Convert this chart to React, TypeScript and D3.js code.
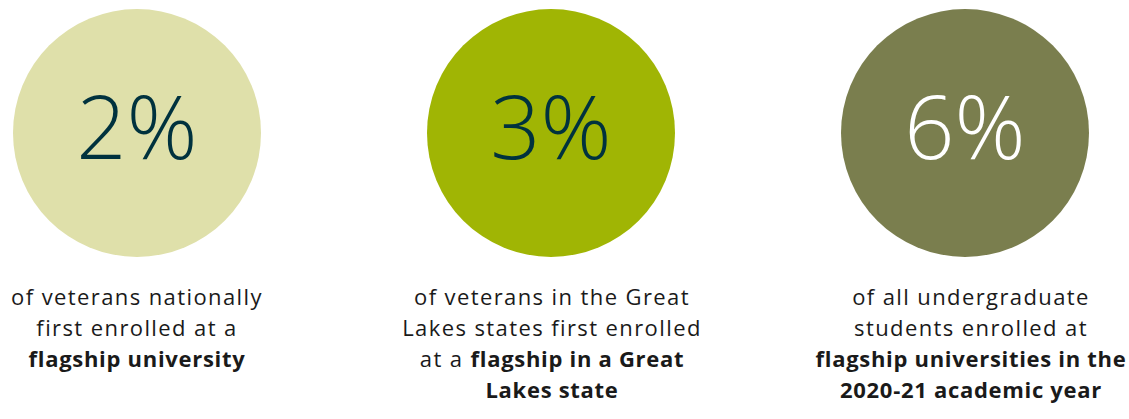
import React from "react";
import * as d3 from "d3";

const categories = ["national", "greatLakes", "undergrad"];
const values = [2, 3, 6];
const circleColors = ["#dfe0aa", "#a0b504", "#7a7e4e"];
const valueColors = ["#00323e", "#00323e", "#ffffff"];
type Seg = { t: string; b?: boolean };
const captions: Seg[][][] = [
  [
    [{ t: "of veterans nationally" }],
    [{ t: "first enrolled at a" }],
    [{ t: "flagship university", b: true }],
  ],
  [
    [{ t: "of veterans in the Great" }],
    [{ t: "Lakes states first enrolled" }],
    [{ t: "at a " }, { t: "flagship in a Great", b: true }],
    [{ t: "Lakes state", b: true }],
  ],
  [
    [{ t: "of all undergraduate" }],
    [{ t: "students enrolled at" }],
    [{ t: "flagship universities in the", b: true }],
    [{ t: "2020-21 academic year", b: true }],
  ],
];

const W = 1129;
const H = 419;

export default function App() {
  const x = d3.scalePoint<string>().domain(categories).range([137, 965]);
  const textOffset = [0, 1, 6];
  const cy = 133;
  const r = 124;
  const lineY = d3.scaleLinear().domain([0, 1]).range([305, 336]);
  return (
    <svg
      width={W}
      height={H}
      style={{ position: "absolute", left: 0, top: 0 }}
      fontFamily="'Open Sans', sans-serif"
    >
      {categories.map((c, i) => (
        <g key={c}>
          <circle cx={x(c)} cy={cy} r={r} fill={circleColors[i]} />
          <text
            x={x(c)}
            y={159}
            textAnchor="middle"
            fontSize={88}
            fontWeight={300}
            fill={valueColors[i]}
          >
            {values[i] + "%"}
          </text>
          {captions[i].map((line, j) => (
            <text
              key={j}
              x={(x(c) as number) + textOffset[i]}
              y={lineY(j)}
              textAnchor="middle"
              fontSize={22}
              fill="#1a1a1a"
            >
              {line.map((s, k) => (
                <tspan
                  key={k}
                  fontWeight={s.b ? 700 : 400}
                  letterSpacing={s.b ? 0.7 : 1.4}
                >
                  {s.t}
                </tspan>
              ))}
            </text>
          ))}
        </g>
      ))}
    </svg>
  );
}
